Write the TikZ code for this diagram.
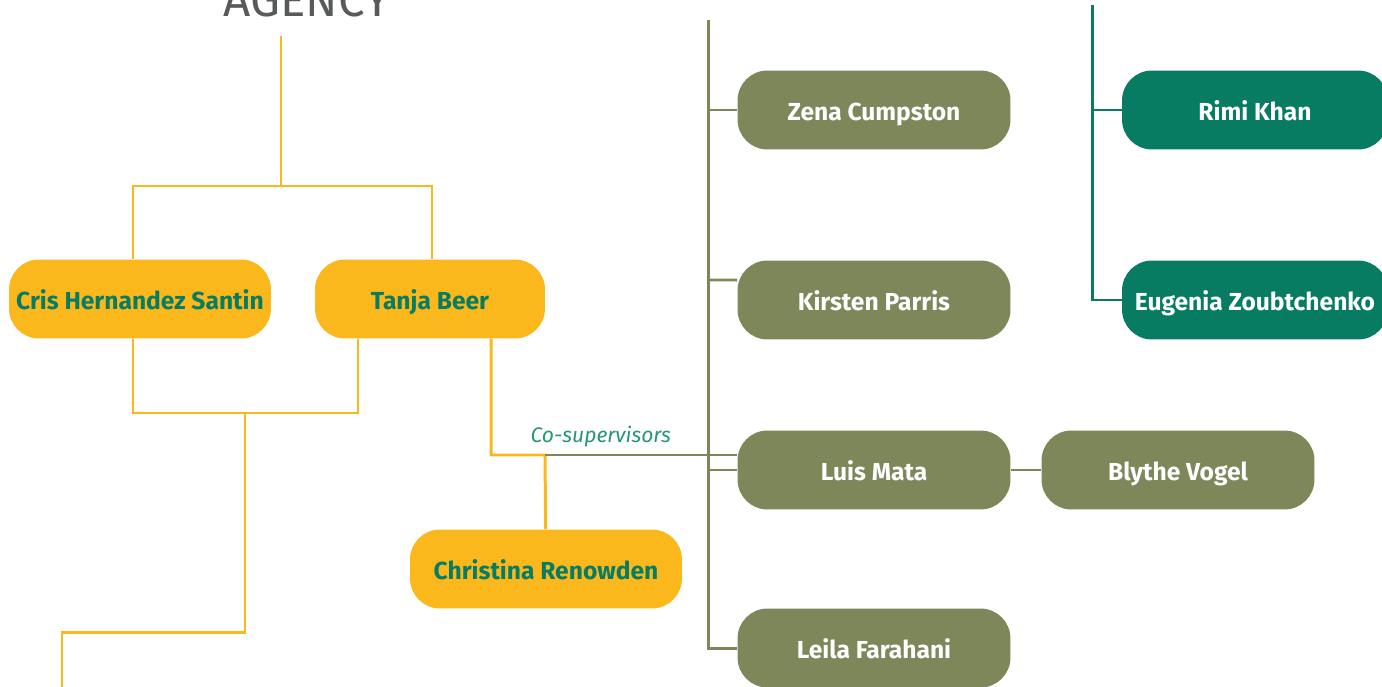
\documentclass[tikz,border=0pt]{standalone}
\usepackage{fontspec}
\setmainfont{Fira Sans}
\usetikzlibrary{positioning}

\definecolor{agencyyellow}{RGB}{251,184,29}
\definecolor{projolive}{RGB}{125,135,90}
\definecolor{labteal}{RGB}{7,124,98}
\definecolor{cosupteal}{RGB}{38,150,118}
\definecolor{agencygrey}{RGB}{88,89,91}

\tikzset{
  person/.style={rounded corners=0.6cm, minimum height=1.58cm, inner sep=0pt,
    text height=12pt, text depth=0pt, font=\bfseries\fontsize{14}{16}\selectfont},
  agencybox/.style={person, fill=agencyyellow, text=labteal},
  projectbox/.style={person, fill=projolive, text=white, minimum width=5.46cm},
  labbox/.style={person, fill=labteal, text=white, minimum width=5.32cm},
  agencyline/.style={draw=agencyyellow, line width=1.7pt},
  projectline/.style={draw=projolive, line width=1.7pt},
  labline/.style={draw=labteal, line width=1.7pt}
}

\begin{document}
\begin{tikzpicture}[x=0.02cm, y=-0.02cm]
            \useasboundingbox (0,0) rectangle (1382,686);
            \clip (0,0) rectangle (1382,686);

            \node[text=agencygrey, font=\fontsize{27}{27}\selectfont, anchor=base, inner sep=0pt] (agencytitle) at (307,17) {AGENCY};
            \coordinate (agency) at (281,36);
            \coordinate (projtop) at (708,20);
            \coordinate (labtop) at (1092,5);

            % Agency
            \node[agencybox, minimum width=5.24cm] (cris) at (140,299) {Cris Hernandez Santin};
            \node[agencybox, minimum width=4.6cm] (tanja) at (430,299) {Tanja Beer};
            \node[agencybox, minimum width=5.44cm] (christina) at (546,569) {Christina Renowden};

            % Project team
            \node[projectbox] (zena) at (874,110) {Zena Cumpston};
            \node[projectbox] (kirsten) at (874,300) {Kirsten Parris};
            \node[projectbox] (luis) at (874,470) {Luis Mata};
            \node[projectbox] (leila) at (874,648) {Leila Farahani};
            \node[projectbox] (blythe) at (1178,470) {Blythe Vogel};

            % Lab
            \node[labbox] (rimi) at (1255,110) {Rimi Khan};
            \node[labbox] (eugenia) at (1255,300) {Eugenia Zoubtchenko};

            \draw[agencyline] (agency) -- (281,186) coordinate (agencysplit);
            \draw[agencyline] (cris.north -| 133,0) |- (agencysplit) -| (tanja.north -| 432,0);
            \draw[agencyline] (cris.south -| 133,0) |- (245,413) coordinate (agencyjoin) -| (tanja.south -| 358,0);
            \coordinate (offpage) at (62,700);
            \draw[agencyline] (agencyjoin) |- (offpage |- 0,632) -- (offpage);
            \draw[agencyline] (tanja.south -| 491,0) |- (545,455) coordinate (cosup) -- (christina);

            \draw[projectline] (cosup) -- node[pos=0.29, above=0.5pt, text=cosupteal, font=\itshape\fontsize{12}{14}\selectfont] (cosuplabel) {Co-supervisors} (luis.west |- 0,455);
            \draw[projectline] (projtop) |- (leila.west);
            \draw[projectline] (zena.west -| projtop) -- (zena.west);
            \draw[projectline] (kirsten.west -| projtop) ++(0,-20) -- ([yshift=0.4cm]kirsten.west);
            \draw[projectline] (luis.west -| projtop) -- (luis.west);
            \draw[projectline] (luis) -- (blythe);

            \draw[labline] (labtop) |- (eugenia.west);
            \draw[labline] (rimi.west -| labtop) -- (rimi.west);
        \end{tikzpicture}
\end{document}
